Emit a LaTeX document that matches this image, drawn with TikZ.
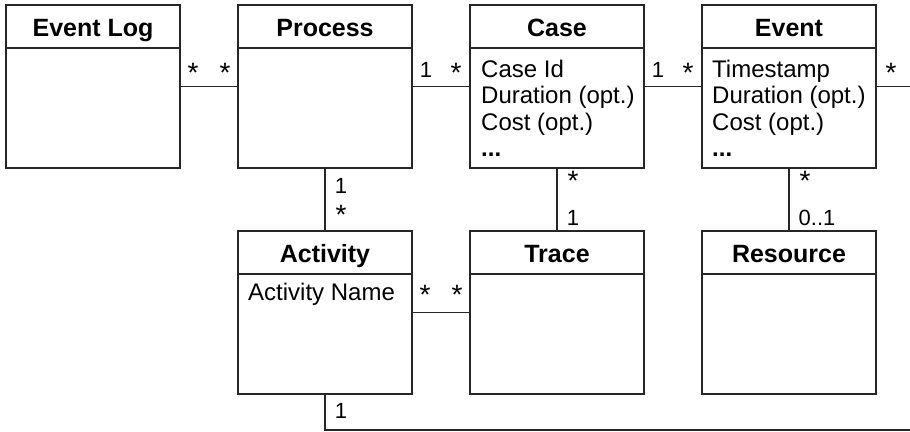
\documentclass[tikz,border=0pt]{standalone}
\usepackage{fontspec}
\setmainfont{Liberation Sans}
% an asterisk lowered so that the node centre sits on the glyph centre
\newcommand\ustar{\raisebox{-0.578em}{*}}
% class box: name, centre x, centre y, title
\newcommand\umlclass[4]{%
  \node[classbox] (#1) at (#2,#3) {};
  \draw[classline] ([yshift=-43pt]#1.north west) -- ([yshift=-43pt]#1.north east);
  \node[classtitle] (#1-title) at ([yshift=-31.5pt]#1.north) {#4};
}
\begin{document}
\begin{tikzpicture}[x=1pt,y=-1pt,
  classline/.style={draw=black!85,line width=1.2pt},
  classbox/.style={classline,minimum width=174pt,minimum height=163pt,inner sep=0pt,outer sep=0pt},
  classtitle/.style={anchor=base,inner sep=0pt,font=\fontsize{25}{25}\selectfont\bfseries},
  attr/.style={anchor=base west,inner sep=0pt,font=\fontsize{24}{24}\selectfont},
  conn/.style={draw=black!85,line width=1.2pt},
  mult/.style={anchor=base,inner sep=0pt,font=\fontsize{22}{22}\selectfont},
  multstar/.style={anchor=center,inner sep=0pt,font=\fontsize{28}{28}\selectfont},
]
\useasboundingbox (0,0) rectangle (910,431);

% classes, top row
\umlclass{log}{93}{86.5}{Event Log}
\umlclass{proc}{325}{86.5}{Process}
\umlclass{case}{557}{86.5}{Case}
\umlclass{event}{789}{86.5}{Event}
% classes, bottom row
\umlclass{act}{325}{312.5}{Activity}
\umlclass{trace}{557}{312.5}{Trace}
\umlclass{res}{789}{312.5}{Resource}

% attributes
\node[attr] (case-a1) at ([xshift=11pt,yshift=-72pt]case.north west) {Case Id};
\node[attr] (case-a2) at ([xshift=11pt,yshift=-98.5pt]case.north west) {Duration (opt.)};
\node[attr] (case-a3) at ([xshift=11pt,yshift=-125pt]case.north west) {Cost (opt.)};
\node[attr] (case-a4) at ([xshift=11pt,yshift=-151.5pt]case.north west) {\textbf{...}};
\node[attr] (event-a1) at ([xshift=10pt,yshift=-72pt]event.north west) {Timestamp};
\node[attr] (event-a2) at ([xshift=10pt,yshift=-98.5pt]event.north west) {Duration (opt.)};
\node[attr] (event-a3) at ([xshift=10pt,yshift=-125pt]event.north west) {Cost (opt.)};
\node[attr] (event-a4) at ([xshift=10pt,yshift=-151.5pt]event.north west) {\textbf{...}};
\node[attr] (act-a1) at ([xshift=10pt,yshift=-69.5pt]act.north west) {Activity Name};

% associations
\coordinate (eventEnd) at (910,86.5);
\coordinate (actEnd) at (910,430);
\draw[conn] (log) -- (proc);
\draw[conn] (proc) -- (case);
\draw[conn] (case) -- (event);
\draw[conn] (event) -- (eventEnd);
\draw[conn] (proc) -- (act);
\draw[conn] (case) -- (trace);
\draw[conn] (event) -- (res);
\draw[conn] (act) -- (trace);
\draw[conn] (act.south) |- (actEnd);

% multiplicities
\node[multstar] (m-log) at (193,72.5) {\ustar};
\node[multstar] (m-proc-l) at (225,72.5) {\ustar};
\node[mult] (m-proc-r) at (426,77.5) {1};
\node[multstar] (m-case-l) at (456,72.5) {\ustar};
\node[mult] (m-case-r) at (658,77.5) {1};
\node[multstar] (m-event-l) at (688,72.5) {\ustar};
\node[multstar] (m-event-r) at (891,72.5) {\ustar};
\node[mult] (m-proc-b) at (341,193) {1};
\node[multstar] (m-act-t) at (341,215) {\ustar};
\node[multstar] (m-case-b) at (573,181) {\ustar};
\node[mult] (m-trace-t) at (573,225) {1};
\node[multstar] (m-event-b) at (805,181) {\ustar};
\node[mult] (m-res-t) at (817,225) {0..1};
\node[multstar] (m-act-r) at (425,295) {\ustar};
\node[multstar] (m-trace-l) at (457,295) {\ustar};
\node[mult] (m-act-b) at (341,418) {1};
\end{tikzpicture}
\end{document}
